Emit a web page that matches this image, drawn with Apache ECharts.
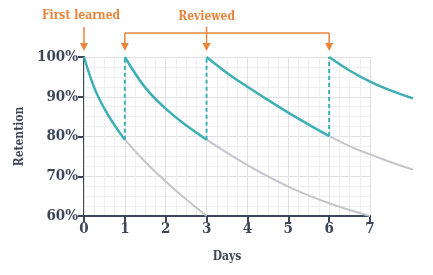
<!DOCTYPE html>
<html>
<head>
<meta charset="utf-8">
<script src="https://cdn.jsdelivr.net/npm/echarts@6/dist/echarts.min.js"></script>
<style>
  html, body { margin: 0; padding: 0; background: #fff; }
  #chart { width: 433px; height: 275px; }
</style>
</head>
<body>
<div id="chart"></div>
<script>
const dayTicks = [0, 1, 2, 3, 4, 5, 6, 7];
const retentionTicks = [60, 70, 80, 90, 100];
const lastDay = 8.05; // curves run a little past the grid

// first learning, day 0
const learnDays = [0, 0.25, 0.5, 0.75, 1];
const learnVals = [100, 92.3, 87, 82.8, 79.2];
const fade1Days = [1, 1.5, 2, 2.5, 3];
const fade1Vals = [79.2, 73.6, 68.7, 64.2, 60];

// review 1, day 1
const rev1Days = [1, 1.5, 2, 2.5, 3];
const rev1Vals = [100, 92.3, 87, 82.8, 79.2];
const fade2Days = [3, 4, 5, 6, 7];
const fade2Vals = [79.2, 72.8, 67.4, 63.2, 60];

// review 2, day 3
const rev2Days = [3, 3.5, 4, 4.5, 5, 5.5, 6];
const rev2Vals = [100, 96, 92.5, 89.2, 86, 83, 80.1];
const fade3Days = [6, 6.5, 7, 7.5, 8.05];
const fade3Vals = [80.1, 77.6, 75.5, 73.6, 71.7];

// review 3, day 6
const rev3Days = [6, 6.5, 7, 7.5, 8.05];
const rev3Vals = [100, 96.6, 93.8, 91.6, 89.6];

const reviewDays = [1, 3, 6];
const reviewFrom = [79.2, 79.2, 80.1];

const teal = '#3db0b6';
const grey = '#c5c4cc';
const orange = '#ea843c';
const ink = '#3d4659';
const font = 'DejaVu Serif Condensed';

const gridLeft = 84, gridRight = 63, gridTop = 57, gridBottom = 59;
const plotW = 433 - gridLeft - gridRight;
const wideRight = 433 - gridLeft - plotW * lastDay / 7;

function zip(xs, ys) {
    return xs.map(function (x, i) { return [x, ys[i]]; });
}

function curve(xs, ys, color, width, z) {
    return {
        type: 'line',
        xAxisIndex: 1,
        yAxisIndex: 1,
        data: zip(xs, ys),
        smooth: 0.4,
        symbol: 'none',
        clip: false,
        z: z,
        lineStyle: { color: color, width: width }
    };
}

let series = [
    curve(fade1Days, fade1Vals, grey, 2, 2),
    curve(fade2Days, fade2Vals, grey, 2, 2),
    curve(fade3Days, fade3Vals, grey, 2, 2),
    curve(learnDays, learnVals, teal, 2.5, 3),
    curve(rev1Days, rev1Vals, teal, 2.5, 3),
    curve(rev2Days, rev2Vals, teal, 2.5, 3),
    curve(rev3Days, rev3Vals, teal, 2.5, 3)
];

reviewDays.forEach(function (d, i) {
    series.push({
        type: 'line',
        xAxisIndex: 1,
        yAxisIndex: 1,
        data: [[d, reviewFrom[i]], [d, 100]],
        symbol: 'none',
        z: 3,
        lineStyle: { color: teal, width: 2, type: [4, 3] }
    });
});

let myChart = echarts.init(document.getElementById('chart'));

let option = {
    animation: false,
    grid: [
        { left: gridLeft, right: gridRight, top: gridTop, bottom: gridBottom },
        { left: gridLeft, right: wideRight, top: gridTop, bottom: gridBottom }
    ],
    xAxis: [{
        type: 'value',
        gridIndex: 0,
        min: 0,
        max: 7,
        interval: 1,
        name: 'Days',
        nameLocation: 'middle',
        nameGap: 35,
        nameTextStyle: { color: ink, fontFamily: font, fontWeight: 'bold', fontSize: 12 },
        axisLine: { show: true, lineStyle: { color: ink, width: 2 } },
        axisTick: { show: true, length: 6, lineStyle: { color: ink, width: 2 } },
        axisLabel: {
            color: ink, fontFamily: font, fontWeight: 'bold', fontSize: 15, margin: 6,
            formatter: function (v) { return dayTicks.includes(v) ? String(v) : ''; }
        },
        splitLine: { show: true, lineStyle: { color: '#e0e0e5', width: 1 } },
        minorTick: { show: false, splitNumber: 4 },
        minorSplitLine: { show: true, lineStyle: { color: '#efeff2', width: 1 } },
        z: 1
    }, {
        type: 'value',
        gridIndex: 1,
        min: 0,
        max: lastDay,
        show: false
    }],
    yAxis: [{
        type: 'value',
        gridIndex: 0,
        min: 60,
        max: 100,
        interval: 10,
        name: 'Retention',
        nameLocation: 'middle',
        nameGap: 54,
        nameTextStyle: { color: ink, fontFamily: font, fontWeight: 'bold', fontSize: 12 },
        axisLine: { show: true, lineStyle: { color: ink, width: 2 } },
        axisTick: { show: true, length: 6, lineStyle: { color: ink, width: 2 } },
        axisLabel: {
            color: ink, fontFamily: font, fontWeight: 'bold', fontSize: 15, margin: 6,
            formatter: function (v) { return retentionTicks.includes(v) ? v + '%' : ''; }
        },
        splitLine: { show: true, lineStyle: { color: '#e0e0e5', width: 1 } },
        minorTick: { show: false, splitNumber: 4 },
        minorSplitLine: { show: true, lineStyle: { color: '#efeff2', width: 1 } }
    }, {
        type: 'value',
        gridIndex: 1,
        min: 60,
        max: 100,
        show: false
    }],
    series: series
};
myChart.setOption(option);

// annotation arrows, placed from the axis scale
function px(d, v) { return myChart.convertToPixel({ xAxisIndex: 1, yAxisIndex: 1 }, [d, v]); }

function arrow(x, y1, y2) {
    return [
        { type: 'line', shape: { x1: x, y1: y1, x2: x, y2: y2 - 4 }, style: { stroke: orange, lineWidth: 1.5 } },
        { type: 'polygon', shape: { points: [[x - 4, y2 - 8], [x + 4, y2 - 8], [x, y2]] }, style: { fill: orange } }
    ];
}

let plotTop = px(0, 100)[1];
let arrowEnd = plotTop - 6;
let bracketY = plotTop - 24;
let x0 = px(0, 100)[0];
let xs = reviewDays.map(function (d) { return px(d, 100)[0]; });
let labelFont = 'bold 12px "' + font + '"';

let graphics = [
    { type: 'text', x: x0 - 3, y: 16, style: { text: 'First learned', fill: orange, font: labelFont, textAlign: 'center', textVerticalAlign: 'middle' } },
    { type: 'text', x: xs[1], y: 17, style: { text: 'Reviewed', fill: orange, font: labelFont, textAlign: 'center', textVerticalAlign: 'middle' } },
    { type: 'line', shape: { x1: xs[0], y1: bracketY, x2: xs[2], y2: bracketY }, style: { stroke: orange, lineWidth: 1.5 } }
];
graphics = graphics.concat(arrow(x0, 27, arrowEnd));
graphics = graphics.concat(arrow(xs[0], bracketY, arrowEnd));
graphics = graphics.concat(arrow(xs[1], 27, arrowEnd));
graphics = graphics.concat(arrow(xs[2], bracketY, arrowEnd));

myChart.setOption({ graphic: graphics });
</script>
</body>
</html>
